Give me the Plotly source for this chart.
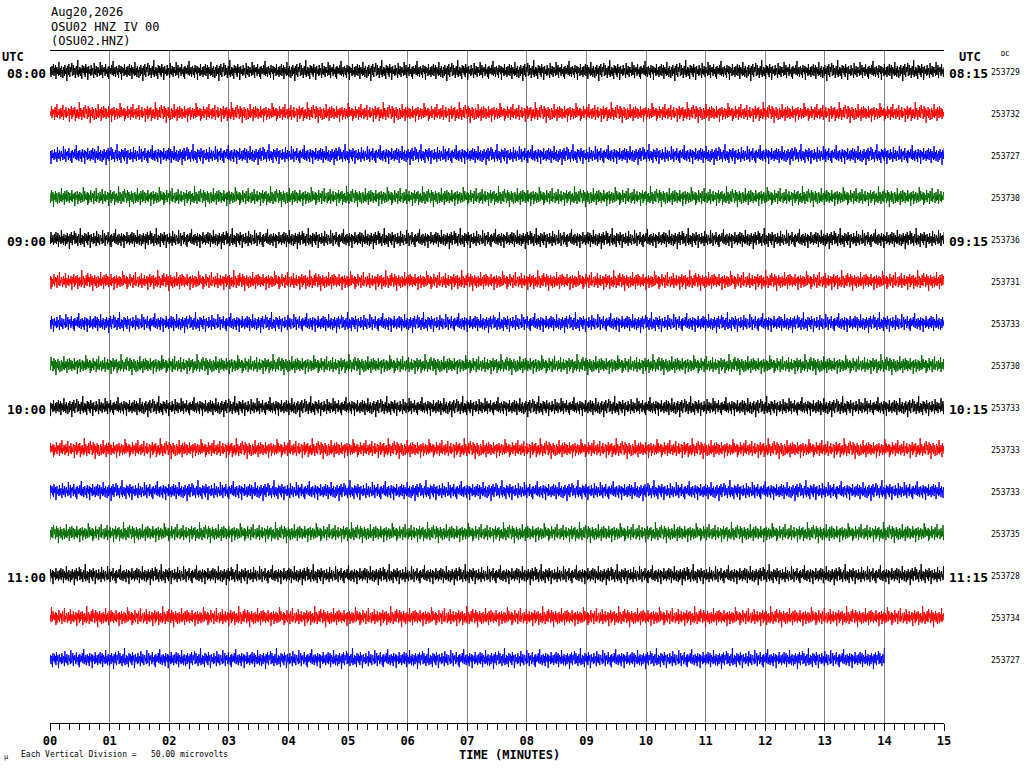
import plotly.graph_objects as go

# helicorder OSU02 HNZ, 15 min per line, 2 samples/s
left_times = ["08:00", "", "", "", "09:00", "", "", "", "10:00", "", "", "", "11:00", "", ""]
right_times = ["08:15", "", "", "", "09:15", "", "", "", "10:15", "", "", "", "11:15", "", ""]
dc_values = [253729, 253732, 253727, 253730, 253736, 253731, 253733, 253730,
             253733, 253733, 253733, 253735, 253728, 253734, 253727]
end_minutes = [15, 15, 15, 15, 15, 15, 15, 15, 15, 15, 15, 15, 15, 15, 14.0]
trace_colors = ["#000000", "#ff0000", "#0000ff", "#006a00"]

# amplitude samples (pixels, trace spacing = 42 px)
noise_px = [3, -4, 6, -2, -5, 4, 1, -7, 5, -3, 2, -6, 8, -1, -4, 3, -2, 5, -9, 4, 0, -3, 6, -5, 2,
            -1, 7, -4, -2, 5, -6, 3, 1, -3, 10, -5, -2, 4, -7, 2, 6, -4, 1, -2, -8, 5, 3, -6, 4, -1,
            -3, 7, -2, -5, 2, 4, -11, 6, -1, 3, -4, 5, -3, -2, 8, -6, 1, 2, -5, 4, -3, 6, -7, 2, 0,
            -4, 9, -3, -5, 3, 1, -2, 5, -6, 4, -1, -3, 2, 7, -8, 3, -2, 4, -5, 1, 6, -3, -4, 2, -1,
            5, -9, 3, 4, -2, -6, 7, -3, 1, -4, 2, 5, -7, 3, -1, -2, 6, -4, 8, -5, -1, 3, -3, 2, -6,
            4, 1, -10, 5, -2, 3, -4, 6, -1, -5, 2, 4, -3, 7, -6, 1, -2, 3, -5, 9, -4, 0, 2, -3, 5,
            -7, 4, -1]

SPACING_PX = 42.0
SAMPLES_PER_MIN = 120

fig = go.Figure()
n = len(noise_px)
for i, dc in enumerate(dc_values):
    count = int(end_minutes[i] * SAMPLES_PER_MIN) + 1
    start = (i * 37) % n
    seq = noise_px if i % 2 == 0 else noise_px[::-1]
    xs = [k / SAMPLES_PER_MIN for k in range(count)]
    ys = [i + seq[(start + k) % n] / SPACING_PX for k in range(count)]
    fig.add_trace(go.Scatter(x=xs, y=ys, mode="lines",
                             line=dict(color=trace_colors[i % 4], width=1),
                             hoverinfo="skip", showlegend=False))

L, R, T, B = 50, 944, 51, 723
W, H = R - L, B - T


def px(x):
    return (x - L) / W


def py(y):
    return 1 - (y - T) / H


mono = "DejaVu Sans Mono"
ann = []
for i, lab in enumerate(left_times):
    ypos = 71 + i * SPACING_PX
    if lab:
        ann.append(dict(x=px(48), y=py(ypos + 2), text="<b>" + lab + "</b>", xanchor="right",
                        font=dict(size=13, family=mono)))
        ann.append(dict(x=px(947), y=py(ypos + 2), text="<b>" + right_times[i] + "</b>", xanchor="left",
                        font=dict(size=13, family=mono)))
    ann.append(dict(x=px(989), y=py(ypos + 1), text=str(dc_values[i]), xanchor="left",
                    font=dict(size=8, family=mono)))

header = [("Aug20,2026", 12), ("OSU02 HNZ IV 00", 27), ("(OSU02.HNZ)", 41)]
for txt, yy in header:
    ann.append(dict(x=px(49), y=py(yy), text=txt, xanchor="left", font=dict(size=12, family=mono)))

ann += [
    dict(x=px(0), y=py(57), text="<b>UTC</b>", xanchor="left", font=dict(size=12, family=mono)),
    dict(x=px(957), y=py(57), text="<b>UTC</b>", xanchor="left", font=dict(size=12, family=mono)),
    dict(x=px(999), y=py(54), text="DC", xanchor="left", font=dict(size=7, family=mono)),
    dict(x=px(509), y=py(755), text="<b>TIME (MINUTES)</b>", xanchor="center", font=dict(size=12, family=mono)),
    dict(x=px(19), y=py(754), text="Each Vertical Division =   50.00 microvolts", xanchor="left",
         font=dict(size=8, family=mono)),
    dict(x=px(2), y=py(757), text="\u00b5", xanchor="left", font=dict(size=7, family=mono)),
]
for a in ann:
    a.update(xref="paper", yref="paper", yanchor="middle", showarrow=False)
    a["font"]["color"] = "#000000"

fig.update_layout(
    width=1024, height=768,
    margin=dict(l=L, r=1024 - R, t=T, b=768 - B, pad=0),
    plot_bgcolor="white", paper_bgcolor="white",
    annotations=ann,
    xaxis=dict(range=[0, 15], tickmode="array", tickvals=list(range(16)),
               ticktext=["%02d" % m for m in range(16)],
               showgrid=True, gridcolor="#808080", gridwidth=1, zeroline=False,
               showline=True, linecolor="#000000", linewidth=1, mirror=True,
               ticks="outside", ticklen=7, tickcolor="#000000",
               minor=dict(dtick=1 / 6, ticks="outside", ticklen=6, tickcolor="#000000", showgrid=False),
               tickfont=dict(size=12, family=mono, color="#000000", weight="bold")),
    yaxis=dict(range=[15.52, -0.476], showgrid=False, zeroline=False, showticklabels=False,
               showline=False, ticks=""),
)

# drop the page's default 8px body margin so the figure sits at the top-left corner
fig.write_html("out.html", config={"displayModeBar": False},
               post_script="document.body.style.margin='0';")
